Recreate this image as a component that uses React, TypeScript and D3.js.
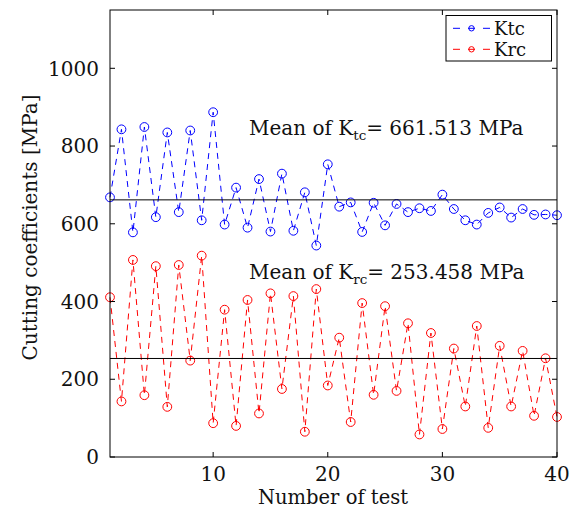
import * as d3 from 'd3';

const testNumbers = [
  1, 2, 3, 4, 5, 6, 7, 8, 9, 10, 11, 12, 13, 14, 15, 16, 17, 18, 19, 20,
  21, 22, 23, 24, 25, 26, 27, 28, 29, 30, 31, 32, 33, 34, 35, 36, 37, 38, 39, 40,
];

const ktc = [
  668, 843, 578, 849, 617, 835, 630, 840, 609, 887,
  598, 693, 590, 715, 580, 729, 582, 681, 544, 753,
  644, 655, 579, 654, 596, 651, 630, 640, 633, 675,
  638, 609, 598, 628, 642, 616, 638, 623, 624, 622,
];

const krc = [
  411, 143, 507, 159, 491, 129, 494, 248, 518, 87,
  379, 80, 404, 112, 421, 175, 414, 65, 432, 184,
  307, 90, 396, 160, 388, 170, 344, 58, 319, 72,
  279, 130, 337, 75, 286, 130, 273, 106, 254, 103,
];

const ktcMean = 661.513;
const krcMean = 253.458;

const xTicks = [10, 20, 30, 40];
const yTicks = [0, 200, 400, 600, 800, 1000];

const W = 579;
const H = 508;
const left = 110;
const right = 557;
const top = 10;
const bottom = 457;
const font = "'DejaVu Serif', serif";

export default function App() {
  const x = d3.scaleLinear().domain([1, 40]).range([left, right]);
  const y = d3.scaleLinear().domain([0, 1150]).range([bottom, top]);

  const line = d3
    .line<number>()
    .x((_, i) => x(testNumbers[i]))
    .y((d) => y(d));

  const series = [
    { name: 'Ktc', values: ktc, color: '#0000ff' },
    { name: 'Krc', values: krc, color: '#ff0000' },
  ];

  const tick = 5;

  return (
    <svg
      width={W}
      height={H}
      style={{ position: 'absolute', left: 0, top: 0, background: '#fff' }}
      fontFamily={font}
    >
      <rect x={0} y={0} width={W} height={H} fill="#fff" />

      {/* series */}
      {series.map((s) => (
        <g key={s.name}>
          <path
            d={line(s.values) || ''}
            fill="none"
            stroke={s.color}
            strokeWidth={1}
            strokeDasharray="6,5"
          />
          {s.values.map((v, i) => (
            <circle
              key={i}
              cx={x(testNumbers[i])}
              cy={y(v)}
              r={4.4}
              fill="none"
              stroke={s.color}
              strokeWidth={1}
            />
          ))}
        </g>
      ))}

      {/* mean lines */}
      {[ktcMean, krcMean].map((m) => (
        <line key={m} x1={left} x2={right} y1={y(m)} y2={y(m)} stroke="#000" strokeWidth={1} />
      ))}

      {/* box */}
      <rect
        x={left}
        y={top}
        width={right - left}
        height={bottom - top}
        fill="none"
        stroke="#000"
        strokeWidth={1}
      />

      {/* x ticks */}
      {xTicks.map((t) => (
        <g key={t}>
          <line x1={x(t)} x2={x(t)} y1={bottom} y2={bottom - tick} stroke="#000" />
          <line x1={x(t)} x2={x(t)} y1={top} y2={top + tick} stroke="#000" />
          <text x={x(t)} y={481} fontSize={20} textAnchor="middle" fill="#111">
            {t}
          </text>
        </g>
      ))}

      {/* y ticks */}
      {yTicks.map((t) => (
        <g key={t}>
          <line x1={left} x2={left + tick} y1={y(t)} y2={y(t)} stroke="#000" />
          <line x1={right} x2={right - tick} y1={y(t)} y2={y(t)} stroke="#000" />
          <text x={left - 11} y={y(t)} dy="0.36em" fontSize={20} textAnchor="end" fill="#111">
            {t}
          </text>
        </g>
      ))}

      {/* axis labels */}
      <text x={333} y={503.5} fontSize={19.5} textAnchor="middle" fill="#111">
        Number of test
      </text>
      <text
        transform={`translate(37,227.5) rotate(-90)`}
        fontSize={20}
        textAnchor="middle"
        fill="#111"
      >
        Cutting coefficients [MPa]
      </text>

      {/* mean annotations */}
      <text x={249} y={135} fontSize={20} fill="#111">
        Mean of K
        <tspan fontSize={13.5} dy={5}>tc</tspan>
        <tspan dy={-5}>= {ktcMean.toFixed(3)} MPa</tspan>
      </text>
      <text x={249} y={279} fontSize={20} fill="#111">
        Mean of K
        <tspan fontSize={13.5} dy={5}>rc</tspan>
        <tspan dy={-5}>= {krcMean.toFixed(3)} MPa</tspan>
      </text>

      {/* legend */}
      <rect x={446} y={15.5} width={105.5} height={45.5} fill="#fff" stroke="#000" strokeWidth={1} />
      {series.map((s, i) => {
        const ly = 28.3 + i * 21;
        return (
          <g key={s.name}>
            <line
              x1={453}
              x2={490}
              y1={ly}
              y2={ly}
              stroke={s.color}
              strokeWidth={1}
              strokeDasharray="7,8"
            />
            <circle cx={471.5} cy={ly} r={2.7} fill="none" stroke={s.color} strokeWidth={1} />
            <text x={494} y={ly + 7} fontSize={18} fill="#111">
              {s.name}
            </text>
          </g>
        );
      })}
    </svg>
  );
}
